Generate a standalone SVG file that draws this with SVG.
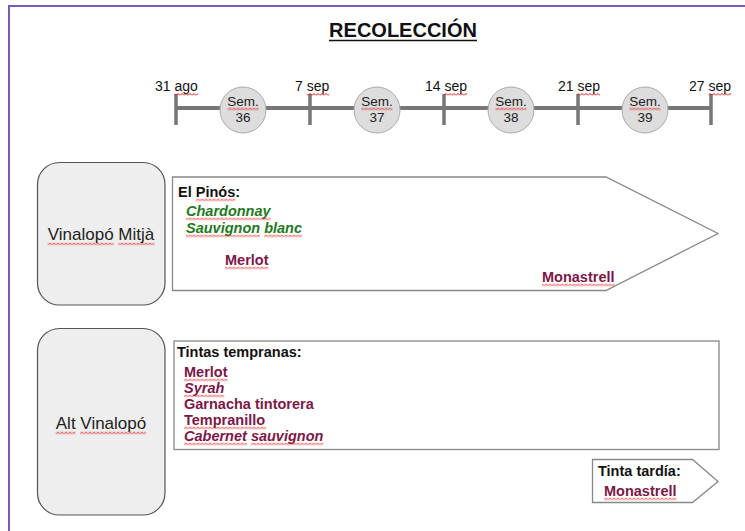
<svg xmlns="http://www.w3.org/2000/svg" width="745" height="531" viewBox="0 0 745 531">
<defs>
<pattern id="wave" patternUnits="userSpaceOnUse" x="0" y="0" width="4" height="3">
<polyline points="0,2.5 2,0.5 4,2.5" fill="none" stroke="#e01010" stroke-width="1"/>
</pattern>
<style>
text{font-family:"Liberation Sans",Arial,sans-serif;}
.lbl{font-size:14px;fill:#111;}
.sem{font-size:13.5px;fill:#222;text-anchor:middle;}
.reg{font-size:17px;fill:#222;text-anchor:middle;}
.head{font-size:14.5px;font-weight:bold;fill:#111;}
.wine{font-size:14.5px;font-weight:bold;fill:#7b1848;}
.green{font-size:14.5px;font-weight:bold;font-style:italic;fill:#1f7a1f;}
.it{font-style:italic;}
.sq{fill:url(#wave);}
.region{fill:#eeeeee;stroke:#555;stroke-width:1.2;}
.box{fill:#fff;stroke:#888;stroke-width:1.3;}
.tick{stroke:#777;stroke-width:3.5;}
.week{fill:#dddddd;stroke:#aaa;stroke-width:1;}
</style>
</defs>
<rect x="0" y="0" width="745" height="531" fill="#fff"/>
<path d="M9,531 L9,6 L745,6" fill="none" stroke="#7d5ab5" stroke-width="2"/>

<g id="title">
<text x="403" y="37" text-anchor="middle" style="font-size:20px;font-weight:bold;fill:#111">RECOLECCIÓN</text>
<line x1="329" y1="40.5" x2="477" y2="40.5" stroke="#111" stroke-width="1.5"/>
</g>

<g id="timeline">
<line x1="176" y1="108" x2="711" y2="108" stroke="#777" stroke-width="4"/>
<line class="tick" x1="176" y1="94" x2="176" y2="125"/>
<line class="tick" x1="310" y1="94" x2="310" y2="125"/>
<line class="tick" x1="444" y1="94" x2="444" y2="125"/>
<line class="tick" x1="578" y1="94" x2="578" y2="125"/>
<line class="tick" x1="711" y1="94" x2="711" y2="125"/>
<text class="lbl" x="155" y="91">31 ago</text>
<text class="lbl" x="295" y="91">7 sep</text>
<text class="lbl" x="425" y="91">14 sep</text>
<text class="lbl" x="558" y="91">21 sep</text>
<text class="lbl" x="689" y="91">27 sep</text>
<rect class="sq" x="174.5" y="0" width="23.4" height="3" transform="translate(0,93)"/>
<rect class="sq" x="306.7" y="0" width="22.6" height="3" transform="translate(0,93)"/>
<rect class="sq" x="444.5" y="0" width="22.6" height="3" transform="translate(0,93)"/>
<rect class="sq" x="577.5" y="0" width="22.6" height="3" transform="translate(0,93)"/>
<rect class="sq" x="708.5" y="0" width="22.6" height="3" transform="translate(0,93)"/>
</g>

<g id="sem36">
<circle class="week" cx="243" cy="110" r="23"/>
<text class="sem" x="243" y="106">Sem.</text>
<text class="sem" x="243" y="122">36</text>
<rect class="sq" x="227.5" y="0" width="31" height="3" transform="translate(0,107.5)"/>
</g>
<g id="sem37">
<circle class="week" cx="377" cy="110" r="23"/>
<text class="sem" x="377" y="106">Sem.</text>
<text class="sem" x="377" y="122">37</text>
<rect class="sq" x="361.5" y="0" width="31" height="3" transform="translate(0,107.5)"/>
</g>
<g id="sem38">
<circle class="week" cx="511" cy="110" r="23"/>
<text class="sem" x="511" y="106">Sem.</text>
<text class="sem" x="511" y="122">38</text>
<rect class="sq" x="495.5" y="0" width="31" height="3" transform="translate(0,107.5)"/>
</g>
<g id="sem39">
<circle class="week" cx="645" cy="110" r="23"/>
<text class="sem" x="645" y="106">Sem.</text>
<text class="sem" x="645" y="122">39</text>
<rect class="sq" x="629.5" y="0" width="31" height="3" transform="translate(0,107.5)"/>
</g>

<g id="vinalopo-mitja">
<rect class="region" x="37.5" y="162.5" width="127.5" height="142.5" rx="22" ry="22"/>
<text class="reg" x="101" y="240">Vinalopó Mitjà</text>
<rect class="sq" x="47.6" y="0" width="66" height="3" transform="translate(0,242.5)"/>
<rect class="sq" x="118.4" y="0" width="36" height="3" transform="translate(0,242.5)"/>
</g>

<g id="el-pinos">
<polygon class="box" points="172.5,177 606,177 718,233.5 606,290.5 172.5,290.5"/>
<text class="head" x="178" y="197">El Pinós:</text>
<text class="green" x="186" y="216">Chardonnay</text>
<text class="green" x="186" y="233">Sauvignon blanc</text>
<text class="wine" x="225" y="265">Merlot</text>
<text class="wine" x="542" y="282">Monastrell</text>
<rect class="sq" x="195.7" y="0" width="39.5" height="3" transform="translate(0,198.5)"/>
<rect class="sq" x="186" y="0" width="84.6" height="3" transform="translate(0,217.5)"/>
<rect class="sq" x="186" y="0" width="74.1" height="3" transform="translate(0,234.5)"/>
<rect class="sq" x="264.2" y="0" width="37.9" height="3" transform="translate(0,234.5)"/>
<rect class="sq" x="225" y="0" width="43.5" height="3" transform="translate(0,266.5)"/>
<rect class="sq" x="542" y="0" width="72.5" height="3" transform="translate(0,283.5)"/>
</g>

<g id="alt-vinalopo">
<rect class="region" x="37.5" y="328.5" width="127.5" height="186.5" rx="22" ry="22"/>
<text class="reg" x="101" y="429">Alt Vinalopó</text>
<rect class="sq" x="55.6" y="0" width="19.8" height="3" transform="translate(0,431.5)"/>
<rect class="sq" x="80.1" y="0" width="66" height="3" transform="translate(0,431.5)"/>
</g>

<g id="tintas-tempranas">
<rect class="box" x="174" y="341" width="545" height="108.5"/>
<text class="head" x="177" y="357">Tintas tempranas:</text>
<text class="wine" x="184" y="377">Merlot</text>
<text class="wine it" x="184" y="393">Syrah</text>
<text class="wine" x="184" y="409">Garnacha tintorera</text>
<text class="wine" x="184" y="425">Tempranillo</text>
<text class="wine it" x="184" y="441">Cabernet sauvignon</text>
<rect class="sq" x="184" y="0" width="43.5" height="3" transform="translate(0,378.5)"/>
<rect class="sq" x="184" y="0" width="40.3" height="3" transform="translate(0,394.5)"/>
<rect class="sq" x="184" y="0" width="82.2" height="3" transform="translate(0,426.5)"/>
<rect class="sq" x="184" y="0" width="62.8" height="3" transform="translate(0,442.5)"/>
<rect class="sq" x="250.9" y="0" width="72.5" height="3" transform="translate(0,442.5)"/>
</g>

<g id="tinta-tardia">
<polygon class="box" points="592.5,459.5 692.5,459.5 718,481.5 692.5,502.5 592.5,502.5"/>
<text class="head" x="598" y="476">Tinta tardía:</text>
<text class="wine" x="604" y="496">Monastrell</text>
<rect class="sq" x="604" y="0" width="72.5" height="3" transform="translate(0,497.5)"/>
</g>
</svg>
